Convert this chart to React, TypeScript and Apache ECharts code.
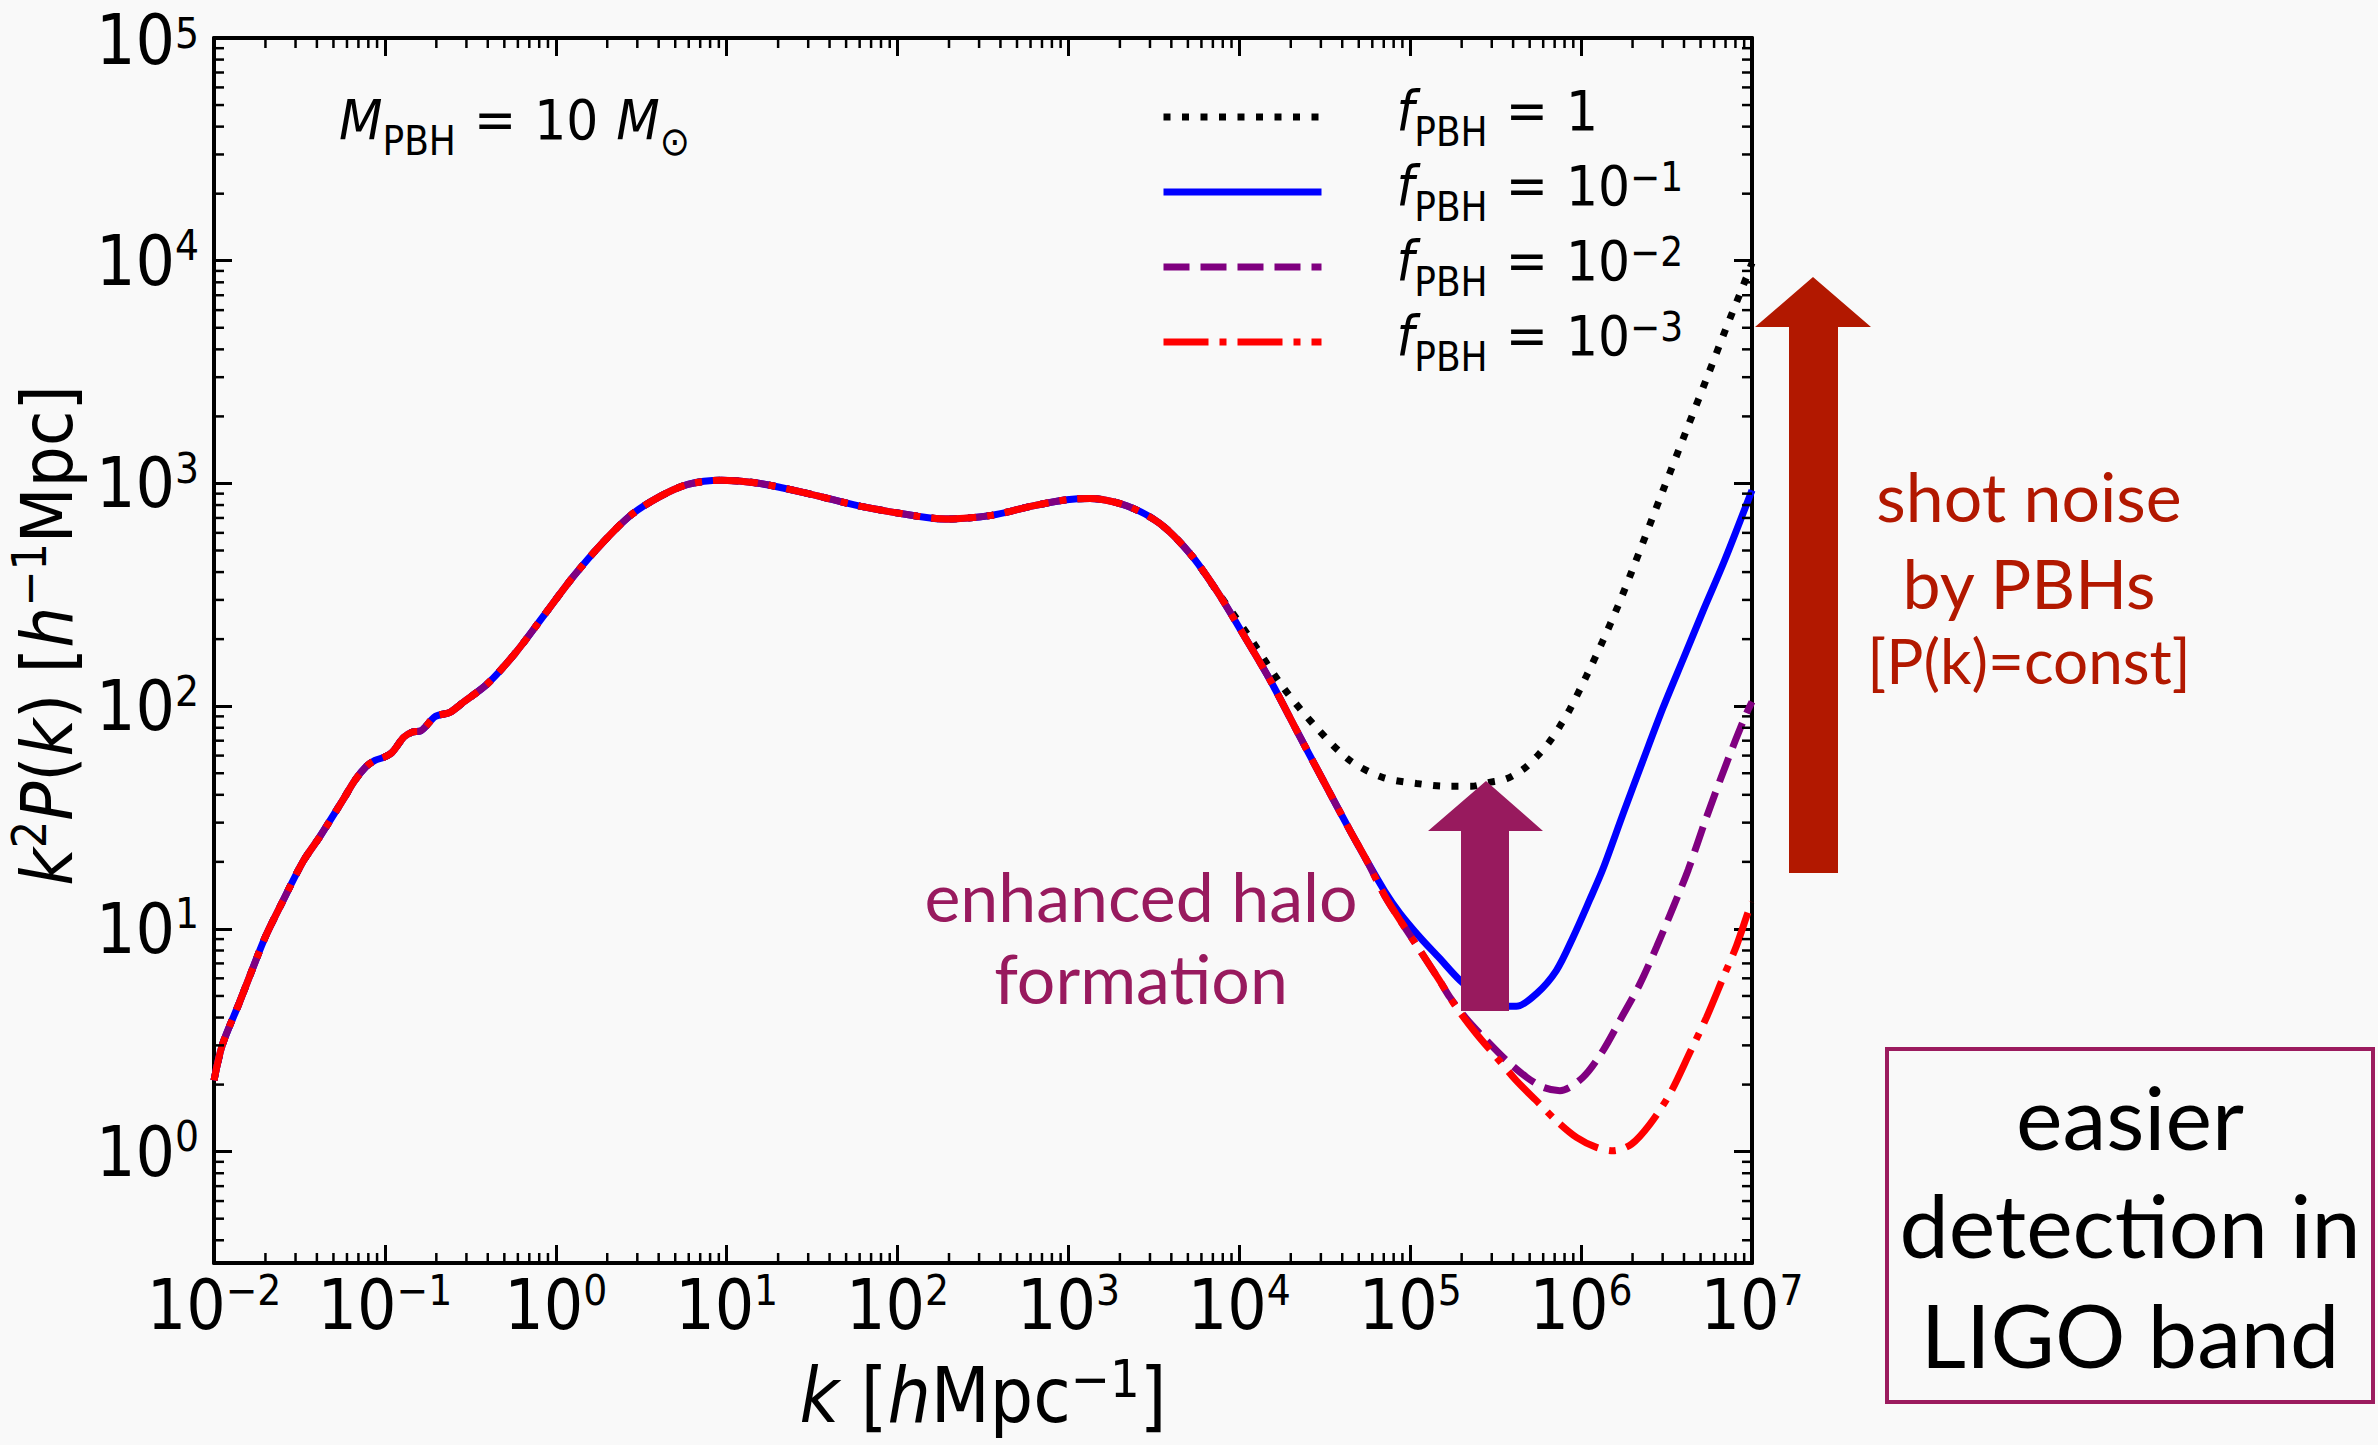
import React, { useEffect, useRef } from 'react';
import * as echarts from 'echarts';

// ---------- fonts & colours ----------
const MATH_FONT = '"Liberation Sans Narrow", "DejaVu Sans Condensed", "Liberation Sans", sans-serif';
const TEXT_FONT = 'Lato, "Open Sans", sans-serif';
const BG = '#f9f9f9';
const PURPLE_NOTE = '#981a5e';
const RED_NOTE = '#b21800';

// ---------- axis ranges ----------
const X_MIN = 0.01;
const X_MAX = 1e7;
const Y_MIN = Math.pow(10, -0.5);
const Y_MAX = 1e5;
const MINOR_MULTIPLIERS = [2, 3, 4, 5, 6, 7, 8, 9];

// ---------- data: k [h/Mpc], k^2 P(k) ----------
// part shared by all four curves
const kShared = [0.01, 0.0112, 0.0141, 0.0166, 0.02, 0.0245, 0.0331, 0.0417, 0.0575, 0.0668, 0.078, 0.0875, 0.0984, 0.11, 0.129, 0.145, 0.162, 0.197, 0.24, 0.29, 0.398, 0.582, 0.857, 1.26, 1.86, 2.74, 4.03, 5.93, 9.33, 15.0, 27.9, 60.3, 131, 191, 355, 610, 977, 1337, 2188, 3428, 5140, 7345];
const pShared = [2.09, 3.02, 4.68, 6.46, 9.23, 12.7, 20.0, 26.0, 38.5, 46.5, 53.7, 57.1, 58.9, 61.9, 72.6, 76.6, 77.4, 89.9, 93.8, 104.7, 125.9, 173.8, 257, 380, 537, 719, 871, 991, 1033, 1005, 912, 791, 713, 692, 719, 791, 845, 857, 794, 661, 485, 331];
// part shared by f = 1e-1, 1e-2, 1e-3
const kMid = [10470, 15140, 21630, 30900, 44360, 55590];
const pMid = [212, 131, 77.8, 46.5, 27.7, 20.3];
// f = 1
const kTail1 = [11480, 18070, 28180, 44360, 69180, 108900, 170600, 228600, 285800, 365600, 457100, 553400, 650100, 751600, 859000, 1074000, 1334000, 1633000, 1972000, 3020000, 4140000, 5420000, 7079000, 8690000, 10000000];
const pTail1 = [203.7, 121.3, 80.35, 57.02, 47.86, 44.98, 43.65, 43.65, 45.39, 47.21, 52.0, 59.7, 69.02, 81.47, 96.83, 136.5, 195.0, 278.6, 399.9, 933.3, 1738, 2951, 5012, 7413, 9772];
// f = 1e-1
const kTail2 = [70790, 87100, 114800, 147900, 195000, 263000, 331100, 417800, 547000, 716100, 897500, 1122000, 1343000, 1766000, 2312000, 3027000, 3963000, 5188000, 6918000, 10000000];
const pTail2 = [14.79, 11.75, 9.12, 7.41, 5.89, 4.90, 4.52, 4.49, 5.11, 6.50, 9.18, 13.49, 18.62, 33.11, 57.54, 99.08, 163.3, 269.2, 451.9, 933.3];
// f = 1e-2
const kTail3 = [70790, 87100, 114800, 147900, 170600, 213800, 279900, 366400, 479700, 599800, 751600, 1026000, 1343000, 1726000, 2208000, 2761000, 3459000, 4236000, 5420000, 7079000, 9078000, 10000000];
const pTail3 = [14.13, 10.96, 7.94, 5.89, 4.93, 3.94, 3.155, 2.564, 2.158, 1.945, 1.879, 2.158, 2.844, 4.009, 5.662, 8.279, 12.53, 18.45, 31.77, 55.21, 89.33, 104.7];
// f = 1e-3
const kTail4 = [70790, 87100, 114800, 147900, 186200, 243800, 319200, 417800, 547000, 716100, 939800, 1230000, 1542000, 1972000, 2529000, 3311000, 4335000, 5420000, 6792000, 8128000, 9484000, 10000000];
const pTail4 = [14.13, 10.96, 7.94, 5.89, 4.446, 3.381, 2.655, 2.084, 1.694, 1.377, 1.159, 1.045, 1.009, 1.081, 1.330, 1.820, 2.793, 4.009, 6.067, 8.433, 11.89, 13.18];

const SERIES_NAMES = ['fPBH = 1', 'fPBH = 1e-1', 'fPBH = 1e-2', 'fPBH = 1e-3'];
const LEGEND_VALUES = ['{n|1}', '{n|10}{sup|\u22121}', '{n|10}{sup|\u22122}', '{n|10}{sup|\u22123}'];

const pairs = (ks: number[], ps: number[]) => ks.map((k, i) => [k, ps[i]]);

function tickLabelX(v: number): string {
  const e = Math.log10(v);
  const r = Math.round(e);
  if (Math.abs(e - r) > 1e-6) return '';
  return `{b|10}{s|${r < 0 ? '\u2212' + -r : r}}`;
}
function tickLabelY(v: number): string {
  const e = Math.log10(v);
  const r = Math.round(e);
  if (Math.abs(e - r) > 1e-6) return '';
  const expo = r < 0 ? '\u2212' + -r : String(r);
  // the label at the very top of the frame is nudged down a little so it stays inside the page
  if (r === Math.round(Math.log10(Y_MAX))) return `{bt|10}{st|${expo}}`;
  return `{b|10}{s|${expo}}`;
}

const tickRich = {
  b: { fontFamily: MATH_FONT, fontSize: 69, lineHeight: 72, color: '#000', verticalAlign: 'middle' },
  s: { fontFamily: MATH_FONT, fontSize: 42, lineHeight: 40, color: '#000', verticalAlign: 'top' },
  bt: { fontFamily: MATH_FONT, fontSize: 69, lineHeight: 72, padding: [10, 0, 0, 0], color: '#000', verticalAlign: 'bottom' },
  st: { fontFamily: MATH_FONT, fontSize: 42, lineHeight: 40, padding: [10, 0, 0, 0], color: '#000', verticalAlign: 'top' },
};
const xNameRich = {
  i: { fontFamily: MATH_FONT, fontStyle: 'italic', fontSize: 76, lineHeight: 84, color: '#000', verticalAlign: 'middle' },
  n: { fontFamily: MATH_FONT, fontSize: 76, lineHeight: 84, color: '#000', verticalAlign: 'middle' },
  s: { fontFamily: MATH_FONT, fontSize: 52, lineHeight: 44, color: '#000', verticalAlign: 'top' },
};
const yNameRich = {
  i: { fontFamily: MATH_FONT, fontStyle: 'italic', fontSize: 72, lineHeight: 84, color: '#000', verticalAlign: 'middle' },
  n: { fontFamily: MATH_FONT, fontSize: 72, lineHeight: 84, color: '#000', verticalAlign: 'middle' },
  s: { fontFamily: MATH_FONT, fontSize: 48, lineHeight: 44, color: '#000', verticalAlign: 'top' },
};
// line box of 70px: main glyphs sit high, subscripts low, superscripts at top
const smallMathRich = {
  sp: { width: 0, lineHeight: 70, fontSize: 10 },
  gap: { width: 70, lineHeight: 70, fontSize: 10 },
  g: { width: 18, lineHeight: 10, fontSize: 10 },
  i: { fontFamily: MATH_FONT, fontStyle: 'italic', fontSize: 56, lineHeight: 42, color: '#000', verticalAlign: 'top' },
  n: { fontFamily: MATH_FONT, fontSize: 56, lineHeight: 42, color: '#000', verticalAlign: 'top' },
  sub: { fontFamily: MATH_FONT, fontSize: 40, lineHeight: 68, color: '#000', verticalAlign: 'bottom' },
  sup: { fontFamily: MATH_FONT, fontSize: 40, lineHeight: 8, color: '#000', verticalAlign: 'top' },
};

const axisLineStyle = { color: '#000', width: 4 };
const majorTick = { inside: true, length: 18, lineStyle: { color: '#000', width: 3 } };

function buildOption() {
  const xMinor: number[][] = [];
  for (let n = -2; n <= 6; n++) for (const m of MINOR_MULTIPLIERS) xMinor.push([m * Math.pow(10, n), Y_MIN]);
  const yMinor: number[][] = [];
  for (let n = -1; n <= 4; n++)
    for (const m of MINOR_MULTIPLIERS) {
      const v = m * Math.pow(10, n);
      if (v > Y_MIN && v < Y_MAX) yMinor.push([X_MIN, v]);
    }

  const lineBase = { type: 'line', showSymbol: false, symbol: 'none', smooth: 0.3, xAxisIndex: 0, yAxisIndex: 0 };

  return {
    animation: false,
    backgroundColor: BG,
    grid: { left: 214, top: 38, width: 1538, height: 1225, containLabel: false, outerBoundsMode: 'none' },
    xAxis: [
      {
        type: 'log', logBase: 10, min: X_MIN, max: X_MAX, splitNumber: 9, position: 'bottom',
        axisLine: { show: true, onZero: false, lineStyle: axisLineStyle },
        axisTick: majorTick,
        axisLabel: { formatter: tickLabelX, margin: 6, rich: tickRich },
        splitLine: { show: false },
        name: '{i|k}{n| [}{i|h}{n|Mpc}{s|\u22121}{n|]}',
        nameLocation: 'middle', nameGap: 90, nameMoveOverlap: false,
        nameTextStyle: { rich: xNameRich },
      },
      {
        type: 'log', logBase: 10, min: X_MIN, max: X_MAX, splitNumber: 9, position: 'top',
        axisLine: { show: true, onZero: false, lineStyle: axisLineStyle },
        axisTick: majorTick, axisLabel: { show: false }, splitLine: { show: false },
      },
    ],
    yAxis: [
      {
        type: 'log', logBase: 10, min: Y_MIN, max: Y_MAX, splitNumber: 5, position: 'left',
        axisLine: { show: true, onZero: false, lineStyle: axisLineStyle },
        axisTick: majorTick,
        axisLabel: { formatter: tickLabelY, margin: 15, rich: tickRich },
        splitLine: { show: false },
        name: '{i|k}{s|2}{i|P}{n|(}{i|k}{n|) [}{i|h}{s|\u22121}{n|Mpc]}',
        nameLocation: 'middle', nameRotate: 90, nameGap: 125, nameMoveOverlap: false,
        nameTextStyle: { rich: yNameRich, padding: [0, 0, 0, 30] },
      },
      {
        type: 'log', logBase: 10, min: Y_MIN, max: Y_MAX, splitNumber: 5, position: 'right',
        axisLine: { show: true, onZero: false, lineStyle: axisLineStyle },
        axisTick: majorTick, axisLabel: { show: false }, splitLine: { show: false },
      },
    ],
    legend: {
      data: SERIES_NAMES,
      orient: 'vertical', left: 1160, top: 82, padding: 0,
      itemWidth: 158, itemHeight: 14, itemGap: 5,
      selectedMode: false,
      lineStyle: { width: 7 },
      itemStyle: { opacity: 0, borderWidth: 0 },
      formatter: (name: string) => {
        const i = SERIES_NAMES.indexOf(name);
        return `{gap| }{sp| }{i|f}{sub|PBH}{g| }{n|=}{g| }${LEGEND_VALUES[i]}`;
      },
      textStyle: { fontFamily: MATH_FONT, fontSize: 56, color: '#000', rich: smallMathRich },
    },
    series: [
      {
        ...lineBase, name: SERIES_NAMES[0], z: 2,
        data: pairs(kShared.concat(kTail1), pShared.concat(pTail1)),
        lineStyle: { color: '#000000', width: 7, type: [7, 11.5] },
        itemStyle: { color: '#000000' },
      },
      {
        ...lineBase, name: SERIES_NAMES[1], z: 3,
        data: pairs(kShared.concat(kMid, kTail2), pShared.concat(pMid, pTail2)),
        lineStyle: { color: '#0000ff', width: 7, type: 'solid' },
        itemStyle: { color: '#0000ff' },
      },
      {
        ...lineBase, name: SERIES_NAMES[2], z: 4,
        data: pairs(kShared.concat(kMid, kTail3), pShared.concat(pMid, pTail3)),
        lineStyle: { color: '#800080', width: 7, type: [26, 11] },
        itemStyle: { color: '#800080' },
      },
      {
        ...lineBase, name: SERIES_NAMES[3], z: 5,
        data: pairs(kShared.concat(kMid, kTail4), pShared.concat(pMid, pTail4)),
        lineStyle: { color: '#ff0000', width: 7, type: [45, 11, 7, 11] },
        itemStyle: { color: '#ff0000' },
      },
      {
        type: 'custom', name: 'minorX', silent: true, z: 6, xAxisIndex: 0, yAxisIndex: 0,
        data: xMinor, encode: { x: 0, y: 1 },
        renderItem: (_p: any, api: any) => {
          const v = api.value(0);
          const b = api.coord([v, Y_MIN]);
          const t = api.coord([v, Y_MAX]);
          const st = { stroke: '#000', lineWidth: 2.5 };
          return {
            type: 'group',
            children: [
              { type: 'line', shape: { x1: b[0], y1: b[1], x2: b[0], y2: b[1] - 10 }, style: st },
              { type: 'line', shape: { x1: t[0], y1: t[1], x2: t[0], y2: t[1] + 10 }, style: st },
            ],
          };
        },
      },
      {
        type: 'custom', name: 'minorY', silent: true, z: 6, xAxisIndex: 0, yAxisIndex: 0,
        data: yMinor, encode: { x: 0, y: 1 },
        renderItem: (_p: any, api: any) => {
          const v = api.value(1);
          const l = api.coord([X_MIN, v]);
          const r = api.coord([X_MAX, v]);
          const st = { stroke: '#000', lineWidth: 2.5 };
          return {
            type: 'group',
            children: [
              { type: 'line', shape: { x1: l[0], y1: l[1], x2: l[0] + 10, y2: l[1] }, style: st },
              { type: 'line', shape: { x1: r[0], y1: r[1], x2: r[0] - 10, y2: r[1] }, style: st },
            ],
          };
        },
      },
    ],
    graphic: [
      {
        type: 'text', x: 339, y: 126, z: 100,
        style: {
          text: '{sp| }{i|M}{sub|PBH}{g| }{n|=}{g| }{n|10}{g| }{i|M}{sub|\u2299}',
          rich: smallMathRich, fill: '#000', align: 'left', verticalAlign: 'middle',
        },
      },
      {
        type: 'polygon', z: 100,
        shape: { points: [[1461, 1011], [1509, 1011], [1509, 831], [1543, 831], [1486, 781], [1428, 831], [1461, 831]] },
        style: { fill: PURPLE_NOTE },
      },
      {
        type: 'polygon', z: 100,
        shape: { points: [[1789, 873], [1838, 873], [1838, 327], [1871, 327], [1813, 277], [1755, 327], [1789, 327]] },
        style: { fill: RED_NOTE },
      },
      { type: 'text', x: 1141, y: 895, z: 100, style: { text: 'enhanced halo', fontFamily: TEXT_FONT, fontSize: 68, fill: PURPLE_NOTE, align: 'center', verticalAlign: 'middle' } },
      { type: 'text', x: 1141, y: 977, z: 100, style: { text: 'formation', fontFamily: TEXT_FONT, fontSize: 68, fill: PURPLE_NOTE, align: 'center', verticalAlign: 'middle' } },
      { type: 'text', x: 2029, y: 495, z: 100, style: { text: 'shot noise', fontFamily: TEXT_FONT, fontSize: 68, fill: RED_NOTE, align: 'center', verticalAlign: 'middle' } },
      { type: 'text', x: 2029, y: 582, z: 100, style: { text: 'by PBHs', fontFamily: TEXT_FONT, fontSize: 68, fill: RED_NOTE, align: 'center', verticalAlign: 'middle' } },
      { type: 'text', x: 2029, y: 660, z: 100, style: { text: '[P(k)=const]', fontFamily: TEXT_FONT, fontSize: 62, fill: RED_NOTE, align: 'center', verticalAlign: 'middle' } },
      {
        type: 'rect', z: 100,
        shape: { x: 1887, y: 1049, width: 486, height: 353 },
        style: { fill: 'none', stroke: '#9b1b5e', lineWidth: 4 },
      },
      { type: 'text', x: 2130, y: 1116, z: 100, style: { text: 'easier', fontFamily: TEXT_FONT, fontSize: 88, fill: '#000', align: 'center', verticalAlign: 'middle' } },
      { type: 'text', x: 2130, y: 1224, z: 100, style: { text: 'detection in', fontFamily: TEXT_FONT, fontSize: 88, fill: '#000', align: 'center', verticalAlign: 'middle' } },
      { type: 'text', x: 2130, y: 1334, z: 100, style: { text: 'LIGO band', fontFamily: TEXT_FONT, fontSize: 88, fill: '#000', align: 'center', verticalAlign: 'middle' } },
    ],
  };
}

export default function App() {
  const ref = useRef<HTMLDivElement>(null);
  useEffect(() => {
    if (!ref.current) return;
    const chart = echarts.init(ref.current, undefined, { renderer: 'svg' });
    chart.setOption(buildOption() as any);
    return () => chart.dispose();
  }, []);
  return (
    <div
      ref={ref}
      style={{ position: 'absolute', left: 0, top: 0, width: 2378, height: 1445, background: BG }}
    />
  );
}
